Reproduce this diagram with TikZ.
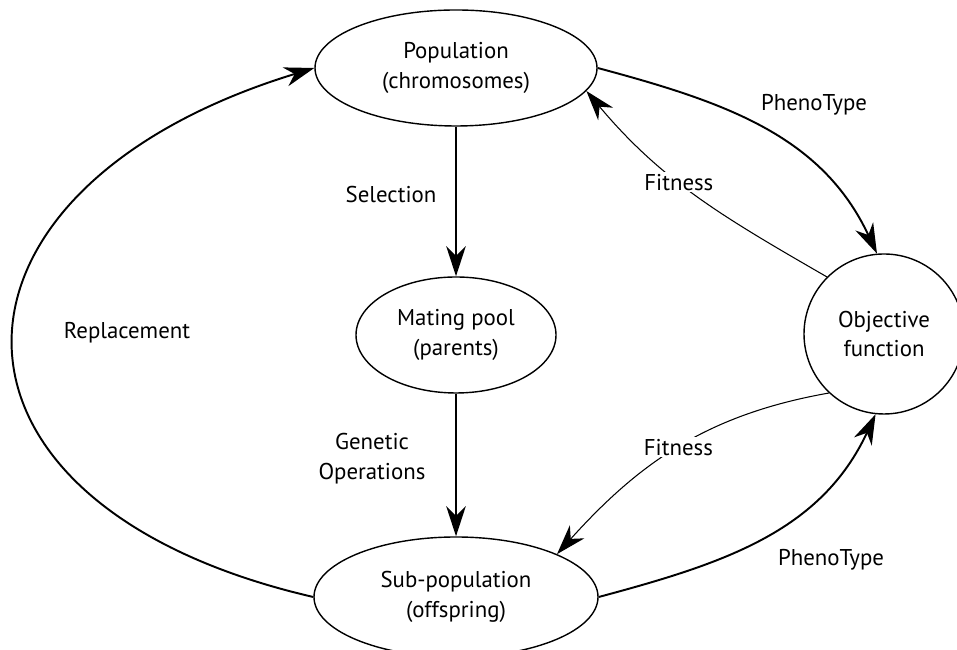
\documentclass[tikz,border=0pt]{standalone}
\usepackage{fontspec}
\setmainfont{PT Sans}
\usepackage{xcolor}
\usetikzlibrary{shapes.geometric,arrows.meta,calc}

\tikzset{
  stage/.style={draw,line width=0.8pt,ellipse,inner sep=0pt,align=center,font=\fontsize{13}{17}\selectfont},
  flow/.style={line width=1.1pt,-{Stealth[length=6mm,width=3.9mm,inset=1.9mm]}},
  fit/.style={line width=0.6pt,-{Stealth[length=6mm,width=3.9mm,inset=1.9mm]}},
  lbl/.style={align=center,font=\fontsize{13}{17}\selectfont,inner sep=1pt}
}

\begin{document}
\begin{tikzpicture}

\useasboundingbox (0,0) rectangle (19.14,13);

% the four stages
\node[stage,minimum width=5.64cm,minimum height=2.32cm] (pop) at (9.12,11.64) {Population\\(chromosomes)};
\node[stage,minimum width=4cm,minimum height=2.32cm] (mate) at (9.12,6.3) {Mating pool\\(parents)};
\node[stage,minimum width=5.68cm,minimum height=2.4cm] (sub) at (9.12,1.06) {Sub-population\\(offspring)};
\node[stage,circle,minimum size=3.2cm] (obj) at (17.68,6.32) {Objective\\function};

% labels that stand apart
\node[lbl] (sel) at (7.82,9.1) {Selection};
\node[lbl] (gen) at (7.44,3.82) {Genetic\\Operations};
\node[lbl] (rep) at (2.54,6.34) {Replacement};
\node[lbl] (ph1) at (16.28,10.9) {PhenoType};
\node[lbl] (ph2) at (16.62,1.8) {PhenoType};

\draw[flow] (pop) -- (mate);
\draw[flow] (mate) -- (sub);
\draw[flow] (sub.west) to[out=167,in=197,looseness=2] (pop.west);

\draw[flow] (pop.east) to[out=-15,in=115] (obj.95);
\draw[flow] (sub.east) to[out=15,in=245] (obj.264);

\draw[fit] (obj.135) to[out=150,in=-50] node[lbl,fill=white,pos=0.58] (fit1) {Fitness} (pop.-10);
\draw[fit] (obj.227) to[out=190,in=48] node[lbl,fill=white,pos=0.5] (fit2) {Fitness} (sub.23);

\end{tikzpicture}
\end{document}
